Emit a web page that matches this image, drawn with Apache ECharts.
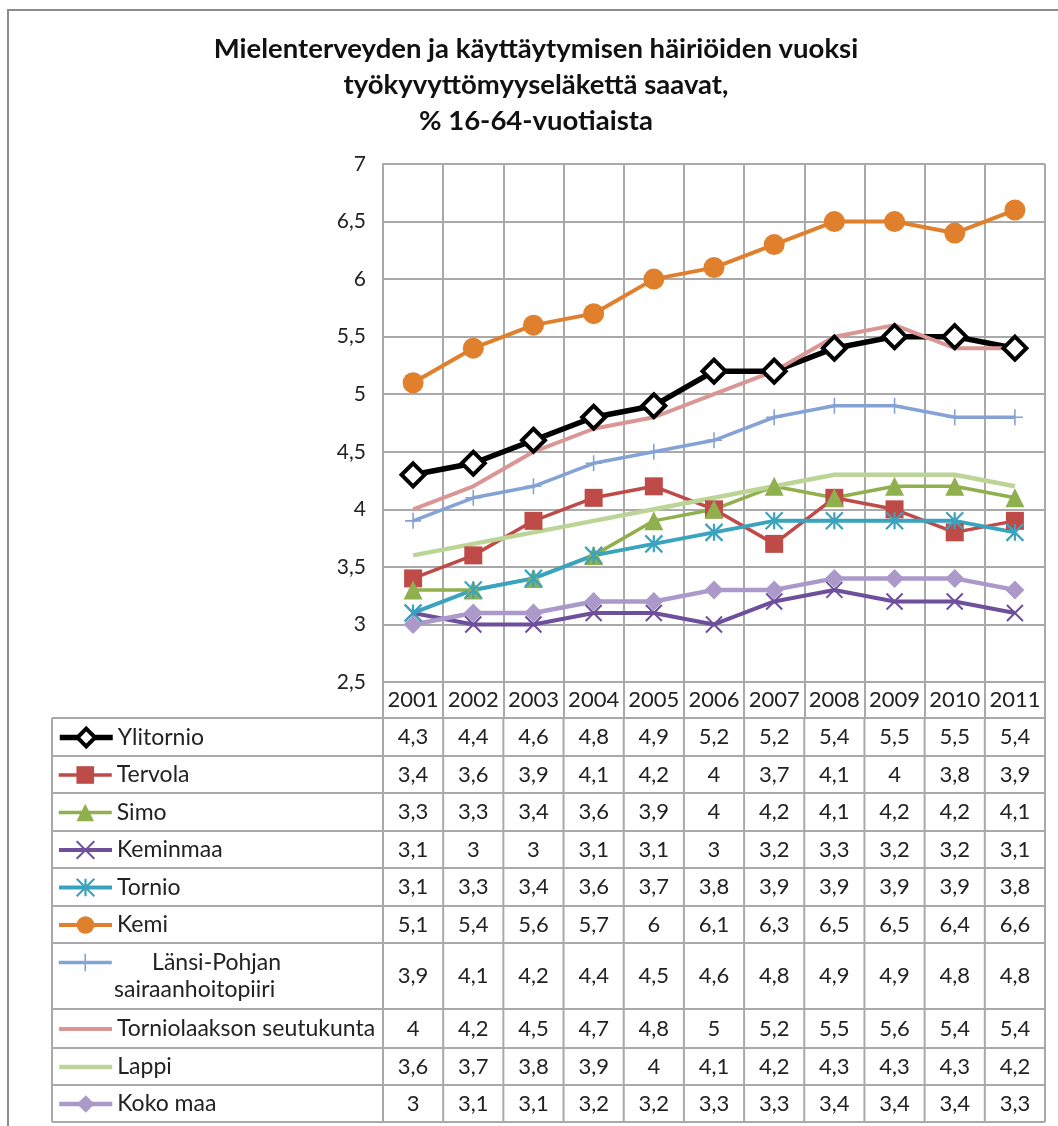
<!DOCTYPE html>
<html lang="fi">
<head>
<meta charset="UTF-8">
<title>Työkyvyttömyyseläke</title>
<script src="https://cdn.jsdelivr.net/npm/echarts@6.0.0/dist/echarts.min.js"></script>
<style>
  html, body { margin: 0; padding: 0; background: #fff; }
  #chart { width: 1058px; height: 1126px; }
</style>
</head>
<body>
<div id="chart"></div>
<script>
    var years = ['2001', '2002', '2003', '2004', '2005', '2006', '2007', '2008', '2009', '2010', '2011'];
    var ylitornio = [4.3, 4.4, 4.6, 4.8, 4.9, 5.2, 5.2, 5.4, 5.5, 5.5, 5.4];
    var tervola = [3.4, 3.6, 3.9, 4.1, 4.2, 4, 3.7, 4.1, 4, 3.8, 3.9];
    var simo = [3.3, 3.3, 3.4, 3.6, 3.9, 4, 4.2, 4.1, 4.2, 4.2, 4.1];
    var keminmaa = [3.1, 3, 3, 3.1, 3.1, 3, 3.2, 3.3, 3.2, 3.2, 3.1];
    var tornio = [3.1, 3.3, 3.4, 3.6, 3.7, 3.8, 3.9, 3.9, 3.9, 3.9, 3.8];
    var kemi = [5.1, 5.4, 5.6, 5.7, 6, 6.1, 6.3, 6.5, 6.5, 6.4, 6.6];
    var lansiPohjan = [3.9, 4.1, 4.2, 4.4, 4.5, 4.6, 4.8, 4.9, 4.9, 4.8, 4.8];
    var torniolaakso = [4, 4.2, 4.5, 4.7, 4.8, 5, 5.2, 5.5, 5.6, 5.4, 5.4];
    var lappi = [3.6, 3.7, 3.8, 3.9, 4, 4.1, 4.2, 4.3, 4.3, 4.3, 4.2];
    var kokoMaa = [3, 3.1, 3.1, 3.2, 3.2, 3.3, 3.3, 3.4, 3.4, 3.4, 3.3];

    var titleLines = [
        'Mielenterveyden ja käyttäytymisen häiriöiden vuoksi',
        'työkyvyttömyyseläkettä saavat,',
        '% 16-64-vuotiaista'
    ];

    var FONT = 'Lato, "Open Sans", sans-serif';
    var GRID = '#a9a9a9';
    var X_MARK = 'path://M0,0L10,10M10,0L0,10';
    var STAR_MARK = 'path://M0,0L10,10M10,0L0,10M5,0L5,10';
    var PLUS_MARK = 'path://M5,0L5,10M2,5L8,5';

    // series: name, data, style
    var rows = [
        {name: 'Ylitornio', data: ylitornio, color: '#000000', width: 5.5, symbol: 'diamond', size: 23,
            item: {color: '#ffffff', borderColor: '#000000', borderWidth: 4}},
        {name: 'Tervola', data: tervola, color: '#be4b48', width: 3.5, symbol: 'rect', size: 18},
        {name: 'Simo', data: simo, color: '#8fb04c', width: 3.5, symbol: 'triangle', size: 19},
        {name: 'Keminmaa', data: keminmaa, color: '#6e4f9c', width: 4, symbol: X_MARK, size: 16,
            item: {color: 'none', borderColor: '#6e4f9c', borderWidth: 2}},
        {name: 'Tornio', data: tornio, color: '#3aa3bd', width: 4, symbol: STAR_MARK, size: 17,
            item: {color: 'none', borderColor: '#3aa3bd', borderWidth: 2.2}},
        {name: 'Kemi', data: kemi, color: '#e07f2c', width: 4, symbol: 'circle', size: 21},
        {name: 'Länsi-Pohjan sairaanhoitopiiri', data: lansiPohjan, color: '#84a2d6', width: 3.5, symbol: PLUS_MARK, size: 16,
            item: {color: 'none', borderColor: '#84a2d6', borderWidth: 1.6}},
        {name: 'Torniolaakson seutukunta', data: torniolaakso, color: '#d99694', width: 4, symbol: 'none', size: 0},
        {name: 'Lappi', data: lappi, color: '#bcd596', width: 4.5, symbol: 'none', size: 0},
        {name: 'Koko maa', data: kokoMaa, color: '#ab99c9', width: 4.5, symbol: 'diamond', size: 19}
    ];

    // table row boundaries (pixels)
    var rowEdges = [718, 756, 793, 831, 868, 906, 943, 1009, 1048, 1085, 1122];
    var tableLeft = 52, plotLeft = 383, plotRight = 1045, plotTop = 164, plotBottom = 682;

    function fmt(v) {
        return String(v).replace('.', ',');
    }

    var series = rows.map(function (r) {
        return {
            name: r.name,
            type: 'line',
            data: r.data,
            symbol: r.symbol,
            symbolSize: r.size,
            showSymbol: r.symbol !== 'none',
            lineStyle: {color: r.color, width: r.width},
            itemStyle: r.item || {color: r.color},
            emphasis: {disabled: true},
            animation: false
        };
    });

    var ICON_H = 22;
    var legends = rows.map(function (r, i) {
        var top = rowEdges[i], bottom = rowEdges[i + 1];
        var twoLine = r.name.indexOf('sairaanhoitopiiri') >= 0;
        var center = twoLine ? top + 19 : (top + bottom) / 2;
        var sym = r.item ? Object.assign({}, r.item) : {color: r.color};
        if (r.symbol === 'none') {
            sym.opacity = 0;
        }
        return {
            data: [r.name],
            left: 57,
            top: center - ICON_H / 2,
            itemWidth: 53,
            itemHeight: ICON_H,
            itemGap: 0,
            selectedMode: false,
            padding: 0,
            lineStyle: {color: r.color, width: r.width},
            itemStyle: sym,
            formatter: function (name) {
                return twoLine ? '      Länsi-Pohjan' : name;
            },
            textStyle: {fontFamily: FONT, fontSize: 23, color: '#222', lineHeight: ICON_H}
        };
    });

    var chart = echarts.init(document.getElementById('chart'));
    chart.setOption({
        backgroundColor: '#ffffff',
        animation: false,
        legend: legends,
        grid: {
            left: plotLeft,
            right: 1058 - plotRight,
            top: plotTop,
            bottom: 1126 - plotBottom,
            containLabel: false
        },
        xAxis: {
            type: 'category',
            data: years,
            boundaryGap: true,
            axisLine: {show: true, lineStyle: {color: GRID, width: 2}},
            axisTick: {show: true, interval: 0, length: rowEdges[0] - plotBottom, lineStyle: {color: GRID, width: 2}},
            axisLabel: {interval: 0, fontFamily: FONT, fontSize: 22, color: '#222', margin: 7},
            splitLine: {show: true, interval: 0, lineStyle: {color: GRID, width: 2}}
        },
        yAxis: {
            type: 'value',
            min: 2.5,
            max: 7,
            interval: 0.5,
            axisLine: {show: true, lineStyle: {color: GRID, width: 2}},
            axisTick: {show: false},
            axisLabel: {
                fontFamily: FONT, fontSize: 21, color: '#222', margin: 17,
                formatter: function (v) { return fmt(v); }
            },
            splitLine: {show: true, lineStyle: {color: GRID, width: 2}}
        },
        series: series
    });

    // title, frame and data table
    var g = [];
    g.push({
        type: 'rect', shape: {x: 8, y: 10, width: 1070, height: 1140}, silent: true,
        style: {fill: 'none', stroke: '#8c8c8c', lineWidth: 2}
    });
    titleLines.forEach(function (t, i) {
        g.push({
            type: 'text', x: 536, y: 49 + i * 36,
            style: {text: t, fontFamily: FONT, fontWeight: 'bold', fontSize: 27.5, fill: '#111',
                align: 'center', verticalAlign: 'middle'}
        });
    });
    // horizontal table lines
    rowEdges.forEach(function (y) {
        g.push({type: 'line', silent: true, shape: {x1: tableLeft, y1: y, x2: plotRight, y2: y},
            style: {stroke: GRID, lineWidth: 2}});
    });
    // vertical table lines
    var colW = (plotRight - plotLeft) / years.length;
    var lastY = rowEdges[rowEdges.length - 1];
    g.push({type: 'line', silent: true, shape: {x1: tableLeft, y1: rowEdges[0], x2: tableLeft, y2: lastY},
        style: {stroke: GRID, lineWidth: 2}});
    for (var c = 0; c <= years.length; c++) {
        var x = plotLeft + c * colW;
        g.push({type: 'line', silent: true, shape: {x1: x, y1: rowEdges[0], x2: x, y2: lastY},
            style: {stroke: GRID, lineWidth: 2}});
    }
    // cell values
    rows.forEach(function (r, i) {
        var cy = (rowEdges[i] + rowEdges[i + 1]) / 2;
        r.data.forEach(function (v, j) {
            var cx = chart.convertToPixel({xAxisIndex: 0}, years[j]);
            g.push({
                type: 'text', x: cx, y: cy, silent: true,
                style: {text: fmt(v), fontFamily: FONT, fontSize: 22, fill: '#222',
                    align: 'center', verticalAlign: 'middle'}
            });
        });
    });
    // second line of the long row label
    g.push({
        type: 'text', x: 114, y: rowEdges[6] + 47, silent: true,
        style: {text: 'sairaanhoitopiiri', fontFamily: FONT, fontSize: 23, fill: '#222',
            align: 'left', verticalAlign: 'middle'}
    });

    chart.setOption({graphic: g});
</script>
</body>
</html>
